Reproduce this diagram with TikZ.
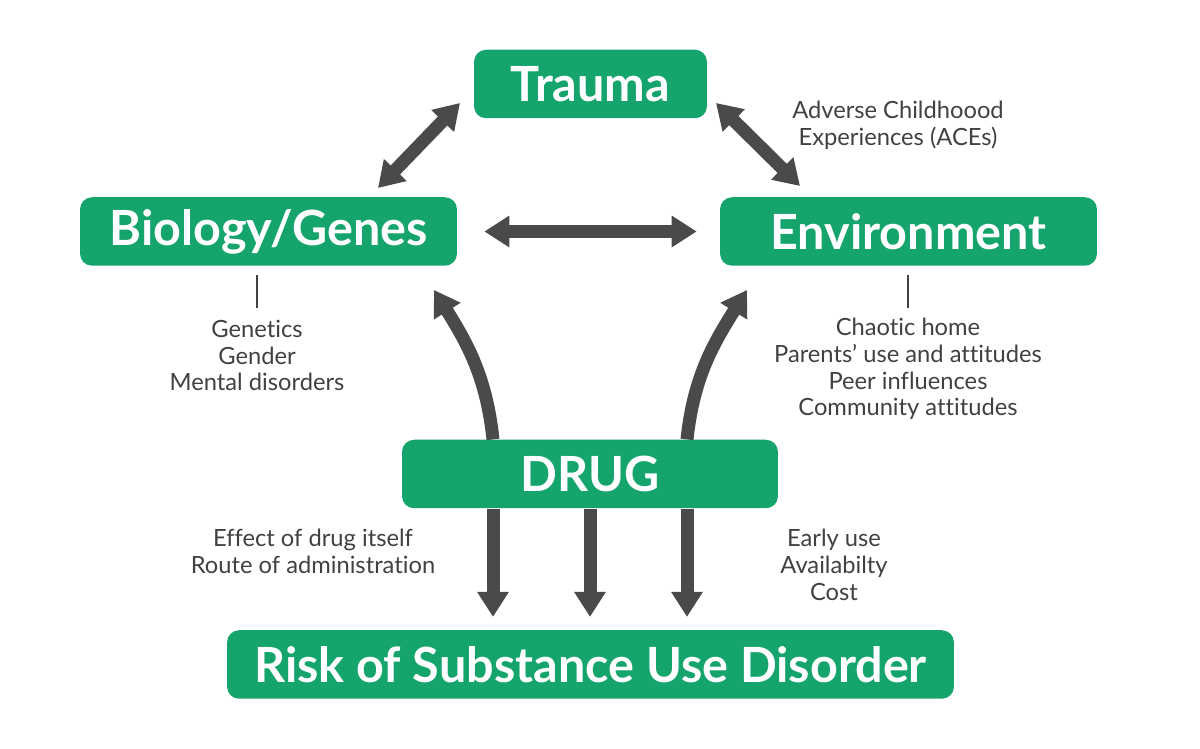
\documentclass[tikz,border=0pt]{standalone}
\usepackage{fontspec}
\setmainfont{Lato}[Ligatures={NoCommon}]
\usepackage{xcolor}
\usetikzlibrary{arrows.meta, calc}

\definecolor{boxgreen}{HTML}{15A46C}
\definecolor{arrowgray}{HTML}{4A4A4C}
\definecolor{notegray}{HTML}{414141}

\begin{document}
\begin{tikzpicture}[x=0.02cm,y=0.02cm]
\tikzset{factorbox/.style={fill=boxgreen,rounded corners=0.24cm,text=white,inner sep=0pt,
           minimum height=1.37cm,font=\fontsize{27.6}{30}\selectfont\bfseries},
         bigarrow/.style={line width=0.26cm,color=arrowgray,-{Triangle[length=0.5cm,width=0.6cm]}},
         dblarrow/.style={bigarrow,{Triangle[length=0.5cm,width=0.6cm]}-{Triangle[length=0.5cm,width=0.6cm]}},
         notes/.style={text=notegray,align=center,font=\fontsize{13.5}{15.2}\selectfont},
         tickline/.style={line width=1.3pt,color=notegray}}
\def\drop{97}
\useasboundingbox (0,0) rectangle (1200,749);
% Factor boxes
\node[factorbox,minimum width=4.66cm] (trauma) at (590.5,665) {Trauma};
\node[factorbox,minimum width=7.54cm] (bio) at (268.5,517.5) {Biology/Genes};
\node[factorbox,minimum width=7.54cm] (env) at (908.5,517.5) {Environment};
\node[factorbox,minimum width=7.52cm] (drug) at (590,275) {DRUG};
\node[factorbox,minimum width=14.54cm] (risk) at (590.5,84.5) {Risk of Substance Use Disorder};
% Notes
\node[notes] (aces) at (898,624) {Adverse Childhoood\\Experiences (ACEs)};
\node[notes] (biolist) at (257,393.5) {Genetics\\Gender\\Mental disorders};
\node[notes] (envlist) at (908,380) {Chaotic home\\Parents’ use and attitudes\\Peer influences\\Community attitudes};
\node[notes] (druglist) at (313,197.5) {Effect of drug itself\\Route of administration};
\node[notes] (uselist) at (834,184) {Early use\\Availabilty\\Cost};
% Arrow ends
\coordinate (bioTop) at (378,561);
\coordinate (traumaLeft) at (460,646);
\coordinate (traumaRight) at (716,646);
\coordinate (envTop) at (800,563);
\coordinate (bioIn) at (434,459);
\coordinate (envIn) at (747,459);
% Triangle of double arrows
\draw[dblarrow] (bioTop) -- (traumaLeft);
\draw[dblarrow] (traumaRight) -- (envTop);
\draw[dblarrow] ($(bio.east)+(27,0)$) -- ($(env.west)+(-23,0)$);
% Drug feeds back
\draw[bigarrow] ($(drug.north)+(-\drop,0)$) to[out=96,in=-58] (bioIn);
\draw[bigarrow] ($(drug.north)+(\drop,0)$) to[out=84,in=-122] (envIn);
% Down to risk
\foreach \dx in {-\drop,0,\drop}
  \draw[bigarrow,shorten >=0.26cm] ($(drug.south)+(\dx,0)$) -- ($(drug.south |- risk.north)+(\dx,0)$);
% Ticks
\draw[tickline] ($(bio.south -| biolist.north)+(0,-9)$) -- ++(0,-33);
\draw[tickline] ($(env.south -| envlist.north)+(0,-9)$) -- ++(0,-33);
\end{tikzpicture}
\end{document}
